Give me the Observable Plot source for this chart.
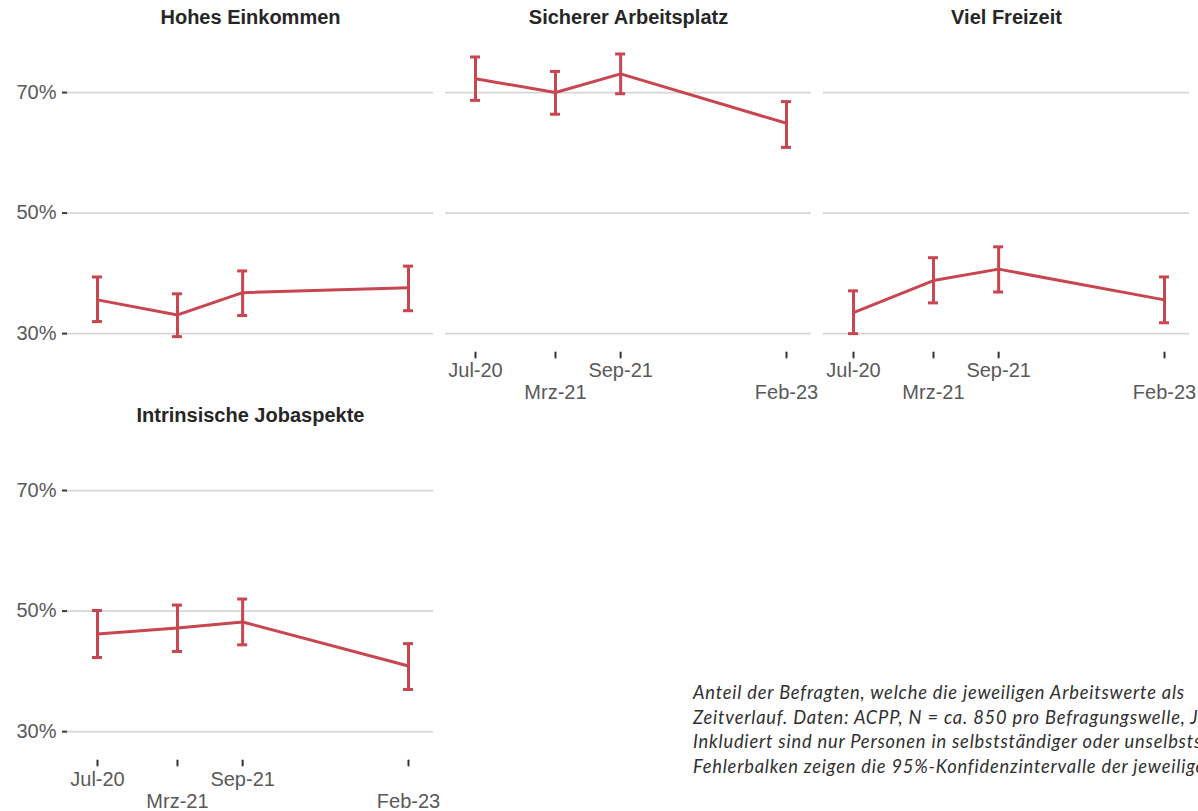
<!DOCTYPE html>
<html>
<head>
<meta charset="utf-8">
<script src="https://cdn.jsdelivr.net/npm/d3@7"></script>
<script src="https://cdn.jsdelivr.net/npm/@observablehq/plot@0.6"></script>
<style>
  html, body { margin: 0; padding: 0; background: #ffffff; overflow: hidden; }
  #chart { position: relative; width: 1198px; height: 811px; overflow: hidden; }
  #caption {
    position: absolute; left: 693px; top: 680px;
    font-family: Lato, "Open Sans", sans-serif; font-style: italic; font-weight: 400;
    font-size: 18.3px; line-height: 24.7px; letter-spacing: 0.8px; color: #303030; white-space: nowrap;
  }
</style>
</head>
<body>
<div id="chart"></div>
<script>
// Survey waves
const waveDates = ["2020-07-01", "2021-03-01", "2021-09-15", "2023-02-01"];
const waveLabels = ["Jul-20", "Mrz-21", "Sep-21", "Feb-23"];

// Work values (one panel each) and their grid position
const aspects = ["Hohes Einkommen", "Sicherer Arbeitsplatz", "Viel Freizeit", "Intrinsische Jobaspekte"];
const aspectCol = [0, 1, 2, 0];
const aspectRow = [0, 0, 0, 1];

// Share (%) rating the value as important, with 95% confidence bounds
const einkommenAnteil = [35.6, 33.1, 36.8, 37.6];
const einkommenUnten  = [32.0, 29.5, 33.0, 33.8];
const einkommenOben   = [39.4, 36.6, 40.4, 41.2];

const sicherheitAnteil = [72.3, 70.0, 73.1, 64.9];
const sicherheitUnten  = [68.7, 66.4, 69.8, 60.9];
const sicherheitOben   = [75.9, 73.5, 76.4, 68.5];

const freizeitAnteil = [33.5, 38.8, 40.7, 35.6];
const freizeitUnten  = [30.0, 35.1, 36.9, 31.8];
const freizeitOben   = [37.1, 42.6, 44.4, 39.4];

const intrinsischAnteil = [46.2, 47.2, 48.2, 40.9];
const intrinsischUnten  = [42.3, 43.3, 44.4, 37.0];
const intrinsischOben   = [50.1, 51.0, 52.0, 44.6];

const yTicks = [30, 50, 70];

const captionLines = [
  "Anteil der Befragten, welche die jeweiligen Arbeitswerte als",
  "Zeitverlauf. Daten: ACPP, N = ca. 850 pro Befragungswelle, J",
  "Inkludiert sind nur Personen in selbstständiger oder unselbstständiger",
  "Fehlerbalken zeigen die 95%-Konfidenzintervalle der jeweiligen"
];

// Build the long table used by the marks
const seriesAnteil = [einkommenAnteil, sicherheitAnteil, freizeitAnteil, intrinsischAnteil];
const seriesUnten = [einkommenUnten, sicherheitUnten, freizeitUnten, intrinsischUnten];
const seriesOben = [einkommenOben, sicherheitOben, freizeitOben, intrinsischOben];
const parseDate = d3.utcParse("%Y-%m-%d");

const rows = aspects.flatMap((name, a) => waveDates.map((d, i) => ({
  aspect: name, col: aspectCol[a], row: aspectRow[a],
  date: parseDate(d), value: seriesAnteil[a][i], lo: seriesUnten[a][i], hi: seriesOben[a][i]
})));

const titles = aspects.map((name, a) => ({name, col: aspectCol[a], row: aspectRow[a]}));

// x-axis ticks and labels, on each panel with nothing below it
const isBottom = (a) => !aspects.some((_, b) => aspectCol[b] === aspectCol[a] && aspectRow[b] > aspectRow[a]);
const xTicks = aspects.flatMap((name, a) => isBottom(a) ? waveDates.map((d, i) => ({
  col: aspectCol[a], row: aspectRow[a], date: parseDate(d), label: waveLabels[i], lane: i % 2
})) : []);

const red = "#c8464f";
const font = "'Liberation Sans', Arial, Helvetica, sans-serif";
const labelSize = 20;
const labelColor = "#595959";

// a plain straight tick for Plot.vector
const tickShape = {draw(context, l) { context.moveTo(0, 0); context.lineTo(0, -l); }};

function xAxisMarks(row, tickDy, textDy) {
  const data = xTicks.filter(t => t.row === row);
  return [
    Plot.vector(data, {x: "date", fx: "col", fy: "row", frameAnchor: "bottom", anchor: "start",
      shape: tickShape, rotate: 180, length: 5, dy: tickDy, stroke: "#333", strokeWidth: 2}),
    Plot.text(data.filter(t => t.lane === 0), {x: "date", fx: "col", fy: "row", text: "label",
      frameAnchor: "bottom", lineAnchor: "bottom", dy: textDy, fontSize: labelSize, fill: labelColor}),
    Plot.text(data.filter(t => t.lane === 1), {x: "date", fx: "col", fy: "row", text: "label",
      frameAnchor: "bottom", lineAnchor: "bottom", dy: textDy + 22, fontSize: labelSize, fill: labelColor})
  ];
}

const chart = Plot.plot({
  width: 1198,
  height: 811,
  marginTop: 39,
  marginBottom: 63,
  marginLeft: 67,
  marginRight: 9,
  style: {fontFamily: font, background: "#ffffff"},
  fx: {domain: [0, 1, 2], axis: null, paddingInner: 0.03175, paddingOuter: 0, round: false},
  fy: {domain: [0, 1], axis: null, paddingInner: 0.2186, paddingOuter: 0, round: false},
  x: {type: "utc", domain: [parseDate(waveDates[0]), parseDate(waveDates[3])], insetLeft: 30, insetRight: 25, axis: null},
  y: {domain: [27.2, 78.8], axis: null},
  marks: [
    Plot.gridY(yTicks, {stroke: "#d6d6d6", strokeOpacity: 1, strokeWidth: 1.8}),
    Plot.axisY(yTicks, {anchor: "left", facetAnchor: "left-empty", tickSize: 5, tickPadding: 6,
      stroke: "#3a3a3a", strokeWidth: 2, fill: labelColor, fontSize: labelSize,
      tickFormat: d => d + "%", label: null}),
    ...xAxisMarks(0, 2, 27),
    ...xAxisMarks(1, 12, 37),
    Plot.text(titles, {fx: "col", fy: "row", text: "name", frameAnchor: "top", lineAnchor: "middle", dy: -22,
      fontWeight: "bold", fontSize: labelSize, fill: "#262626"}),
    Plot.ruleX(rows, {x: "date", y1: "lo", y2: "hi", fx: "col", fy: "row", stroke: red, strokeWidth: 3}),
    Plot.ruleY(rows, {y: "lo", x1: "date", x2: "date", fx: "col", fy: "row", insetLeft: -5, insetRight: -5, stroke: red, strokeWidth: 3}),
    Plot.ruleY(rows, {y: "hi", x1: "date", x2: "date", fx: "col", fy: "row", insetLeft: -5, insetRight: -5, stroke: red, strokeWidth: 3}),
    Plot.line(rows, {x: "date", y: "value", z: "aspect", fx: "col", fy: "row", stroke: red, strokeWidth: 3})
  ]
});

const host = document.getElementById("chart");
host.appendChild(chart);
const cap = document.createElement("div");
cap.id = "caption";
captionLines.forEach(line => {
  const el = document.createElement("div");
  el.textContent = line;
  cap.appendChild(el);
});
host.appendChild(cap);
</script>
</body>
</html>
